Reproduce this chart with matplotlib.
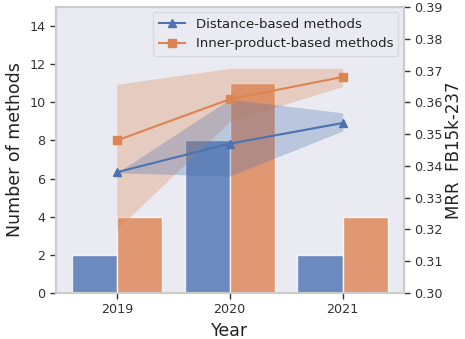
import numpy as np
import matplotlib.pyplot as plt

# 每年方法数量与 FB15k-237 上的 MRR
years = ['2019', '2020', '2021']
dist_counts = [2, 8, 2]
inner_counts = [4, 11, 4]

dist_mrr = [0.338, 0.347, 0.3535]
dist_min = [0.3378, 0.3368, 0.351]
dist_max = [0.3378, 0.361, 0.3567]

inner_mrr = [0.348, 0.361, 0.368]
inner_min = [0.320, 0.354, 0.365]
inner_max = [0.3657, 0.3707, 0.3707]

blue = '#4C72B0'
orange = '#DD8452'
bg = '#EAEAF2'
edge = '#CCCCCC'
txt = '#333333'

fig, ax = plt.subplots(figsize=(4.65, 3.39), dpi=100)
fig.subplots_adjust(left=0.12, right=0.868, bottom=0.136, top=0.979)
ax.set_facecolor(bg)

x = np.arange(len(years))
w = 0.4
ax.bar(x - w / 2, dist_counts, w, color=blue, alpha=0.8, edgecolor='white', linewidth=1)
ax.bar(x + w / 2, inner_counts, w, color=orange, alpha=0.8, edgecolor='white', linewidth=1)
ax.set_ylim(0, 15)
ax.set_yticks(range(0, 15, 2))
ax.set_xticks(x)
ax.set_xticklabels(years)
ax.set_xlabel('Year', fontsize=12.5, color='#222222')
ax.set_ylabel('Number of methods', fontsize=12.5, color='#222222')

# 右轴：MRR 折线与最小/最大范围
ax2 = ax.twinx()
ax2.fill_between(x, inner_min, inner_max, color=orange, alpha=0.3, linewidth=0)
ax2.fill_between(x, dist_min, dist_max, color=blue, alpha=0.3, linewidth=0)
ax2.plot(x, dist_mrr, color=blue, marker='^', markersize=6, linewidth=1.5,
         label='Distance-based methods')
ax2.plot(x, inner_mrr, color=orange, marker='s', markersize=6, linewidth=1.5,
         label='Inner-product-based methods')
ax2.set_ylim(0.30, 0.39)
ticks = np.round(np.arange(0.30, 0.395, 0.01), 2)
ax2.set_yticks(ticks)
ax2.set_yticklabels([f'{v:.2f}' for v in ticks])
ax2.set_ylabel('MRR  FB15k-237', fontsize=12, color='#222222', labelpad=2)

for a in (ax, ax2):
    a.tick_params(labelsize=9.2, colors=txt, length=4, width=1)
    for s in a.spines.values():
        s.set_color(edge)
        s.set_linewidth(1.5)

leg = ax2.legend(loc='upper right', fontsize=9.5, frameon=True,
                 facecolor=bg, edgecolor='#D5D5DD', borderaxespad=0.4)
for t in leg.get_texts():
    t.set_color('#222222')

plt.savefig('out.png', dpi=100)
